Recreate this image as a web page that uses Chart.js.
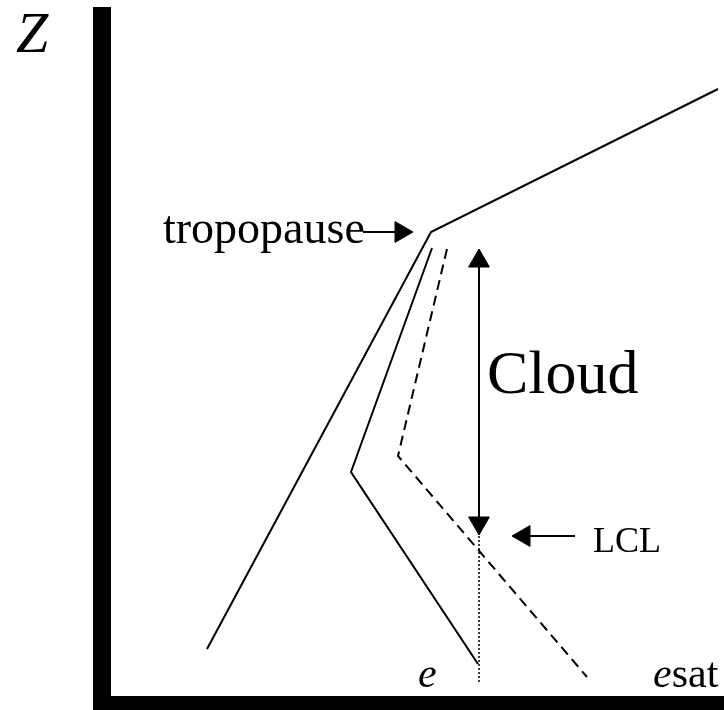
<!DOCTYPE html>
<html>
<head>
<meta charset="utf-8">
<script src="https://cdn.jsdelivr.net/npm/chart.js@4"></script>
<style>
  html, body { margin: 0; padding: 0; background: #fff; }
  canvas { display: block; }
</style>
</head>
<body>
<canvas id="chart" width="724" height="710"></canvas>
<script>
// units: x = vapour pressure (arbitrary), z = height (arbitrary), origin at the axis corner
const envX = [95, 319, 606];          // environment profile, up to the tropopause and above
const envZ = [47, 464, 607];
const eX = [320, 239, 366];           // e (vapour pressure)
const eZ = [448, 224, 32];
const esatX = [335, 286, 475];        // esat (saturation vapour pressure)
const esatZ = [447, 240, 19];
const lclX = 367;                     // where e meets esat
const lclZ = 160;
const cloudTopZ = 447;
const tropoArrowX = [251, 301];       // tail, tip
const tropoZ = 464;
const lclArrowX = [463, 400];         // tail, tip

const HEAD = 12; // arrow head radius

const pts = (xs, zs) => xs.map((x, i) => ({ x: x, y: zs[i] }));

const labels = [
  { text: 'Z', x: -96, z: 644, font: 'italic 58px "Liberation Serif"' },
  { text: 'tropopause', x: 51, z: 453, font: '46px "Liberation Serif"' },
  { text: 'Cloud', x: 375, z: 303, font: '62px "Liberation Serif"' },
  { text: 'LCL', x: 481, z: 144, font: '36px "Liberation Serif"' },
  { text: 'e', x: 306, z: 9, font: 'italic 42px "Liberation Serif"' },
  { text: 'e', x: 541, z: 9, font: 'italic 42px "Liberation Serif"', after: 'sat' }
];

const textPlugin = {
  id: 'texts',
  afterDatasetsDraw(chart) {
    const ctx = chart.ctx;
    const sx = chart.scales.x, sy = chart.scales.y;
    ctx.save();
    ctx.fillStyle = '#000';
    ctx.textBaseline = 'alphabetic';
    labels.forEach(l => {
      const px = sx.getPixelForValue(l.x);
      const py = sy.getPixelForValue(l.z);
      ctx.font = l.font;
      ctx.fillText(l.text, px, py);
      if (l.after) {
        const w = ctx.measureText(l.text).width;
        ctx.font = '42px "Liberation Serif"';
        ctx.fillText(l.after, px + w, py);
      }
    });
    ctx.restore();
  }
};

const line = (data, extra) => Object.assign({
  data: data, showLine: true, borderColor: '#000', borderWidth: 2,
  pointRadius: 0, tension: 0, fill: false
}, extra || {});

const heads = (data, rot) => ({
  data: data, showLine: false, pointStyle: 'triangle', pointRadius: HEAD,
  pointRotation: rot, backgroundColor: '#000', borderColor: '#000', borderWidth: 1
});

new Chart(document.getElementById('chart'), {
  type: 'scatter',
  data: {
    datasets: [
      // thick axes
      line([{ x: -10, y: 689 }, { x: -10, y: -14 }], { borderWidth: 18, borderCapStyle: 'butt' }),
      line([{ x: -19, y: -7 }, { x: 612, y: -7 }], { borderWidth: 14, borderCapStyle: 'butt' }),
      line(pts(envX, envZ)),
      line(pts(eX, eZ)),
      line(pts(esatX, esatZ), { borderDash: [10, 6] }),
      line([{ x: lclX, y: lclZ }, { x: lclX, y: 14 }], { borderWidth: 1.5, borderDash: [2, 2] }),
      // cloud arrow (tips at cloudTopZ and just above lclZ)
      line([{ x: lclX, y: cloudTopZ - HEAD }, { x: lclX, y: lclZ + 1 + HEAD }]),
      heads([{ x: lclX, y: cloudTopZ - HEAD }], 0),
      heads([{ x: lclX, y: lclZ + 1 + HEAD }], 180),
      // tropopause arrow
      line([{ x: tropoArrowX[0], y: tropoZ }, { x: tropoArrowX[1] - HEAD, y: tropoZ }]),
      heads([{ x: tropoArrowX[1] - HEAD, y: tropoZ }], 90),
      // LCL arrow
      line([{ x: lclArrowX[0], y: lclZ }, { x: lclArrowX[1] + HEAD, y: lclZ }]),
      heads([{ x: lclArrowX[1] + HEAD, y: lclZ }], 270)
    ]
  },
  options: {
    responsive: false,
    animation: false,
    devicePixelRatio: 1,
    layout: { padding: 0, autoPadding: false },
    plugins: { legend: { display: false }, tooltip: { enabled: false } },
    scales: {
      x: { type: 'linear', display: false, min: -112, max: 612 },
      y: { type: 'linear', display: false, min: -14, max: 696 }
    }
  },
  plugins: [textPlugin]
});
</script>
</body>
</html>
